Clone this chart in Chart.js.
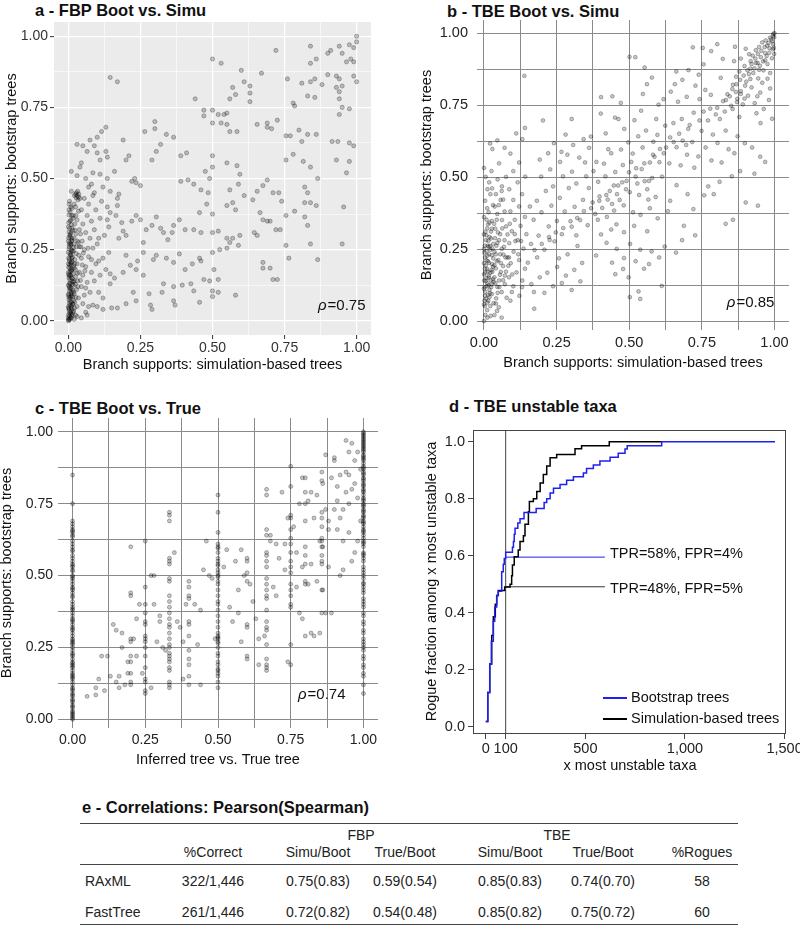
<!DOCTYPE html>
<html>
<head>
<meta charset="utf-8">
<script src="https://cdn.jsdelivr.net/npm/chart.js@4.4.1/dist/chart.umd.min.js"></script>
<style>
  body { margin: 0; width: 800px; height: 928px; position: relative; overflow: hidden; background: #fff;
         font-family: "Liberation Sans", Arial, sans-serif; color: #111; }
  canvas { position: absolute; }
  .ptitle { position: absolute; font-weight: bold; font-size: 16.5px; line-height: 19px; white-space: nowrap; }
  .cell { position: absolute; font-size: 14px; line-height: 16px; white-space: nowrap; color: #222; }
  .rule { position: absolute; left: 80px; width: 658px; border-top: 1.5px solid #444; }
</style>
</head>
<body>
<div class="ptitle" style="left:35px;top:1px">a - FBP Boot vs. Simu</div>
<div class="ptitle" style="left:447px;top:2px">b - TBE Boot vs. Simu</div>
<div class="ptitle" style="left:35px;top:399px">c - TBE Boot vs. True</div>
<div class="ptitle" style="left:449px;top:397px">d - TBE unstable taxa</div>
<div class="ptitle" style="left:82px;top:798px">e - Correlations: Pearson(Spearman)</div>

<canvas id="chartA" width="380" height="380" style="left:0;top:0"></canvas>
<canvas id="chartB" width="400" height="380" style="left:400px;top:0"></canvas>
<canvas id="chartC" width="400" height="400" style="left:0;top:380px"></canvas>
<canvas id="chartD" width="400" height="400" style="left:400px;top:380px"></canvas>
<div id="tableE"></div>

<script>
// ---------- data ----------

// a: FBP supports, [simulation-based trees, bootstrap trees]
const fbpSimuBoot = [
  [1,1],[1,.98],[.99,.96],[.975,.97],[.94,.965],[.91,.95],[.9,.94],[.95,.94],[.98,.92],[.99,.91],[.965,.91],[.84,.965],
  [.72,.95],[.5,.92],[.53,.905],[.84,.905],[.86,.92],[.88,.83],[.9,.865],[.93,.86],[.94,.85],[.95,.825],[.99,.86],[1,.84],
  [.6,.88],[.67,.87],[.76,.85],[.81,.835],[.84,.84],[.855,.85],[.61,.84],[.63,.825],[.57,.82],[.58,.795],[.56,.78],[.63,.8],
  [.63,.77],[.44,.78],[.78,.765],[.785,.755],[.83,.79],[.855,.785],[.94,.805],[.93,.82],[.94,.78],[.95,.75],[.94,.725],[.975,.745],
  [.145,.855],[.17,.84],
  [.47,.74],[.5,.74],[.52,.725],[.54,.725],[.55,.73],[.47,.72],[.55,.69],[.5,.695],[.53,.695],[.3,.7],[.3,.675],[.265,.665],
  [.56,.665],[.585,.665],[.655,.69],[.69,.695],[.725,.705],[.69,.68],[.705,.675],[.755,.65],[.77,.65],[.8,.67],[.81,.63],[.83,.655],
  [.86,.655],[.915,.63],[.935,.63],[.975,.625],[.99,.615],
  [.13,.68],[.115,.665],[.1,.645],[.075,.635],[.05,.615],[.03,.62],[.09,.615],[.065,.595],[.1,.59],[.13,.595],[.11,.565],[.135,.575],
  [.19,.635],[.21,.58],[.2,.565],[.16,.525],[.01,.525],[.04,.54],[.045,.555],[.03,.51],[.06,.5],[.085,.52],[.11,.515],[.135,.5],
  [.08,.48],[.07,.47],[.09,.45],[.12,.47],[.145,.455],[.175,.445],[.17,.43],[.22,.49],[.235,.485],[.25,.475],[.23,.5],
  [.29,.565],[.305,.595],[.32,.62],[.34,.655],[.365,.645],[.39,.58],[.41,.59],[.415,.495],[.39,.49],[.435,.48],[.46,.46],[.485,.45],
  [.5,.58],[.475,.525],[.5,.54],[.49,.5],[.55,.555],[.585,.545],[.595,.515],[.59,.48],[.56,.46],[.57,.415],[.58,.39],[.55,.405],
  [.61,.44],[.64,.425],[.655,.455],[.675,.475],[.69,.495],[.71,.45],[.73,.45],[.74,.42],[.78,.585],[.755,.565],[.815,.56],[.84,.54],
  [.865,.5],[.93,.565],[.975,.56],[.965,.52],[.82,.47],[.83,.45],[.84,.415],[.82,.415],[.785,.385],[.755,.37],[.72,.32],[.69,.35],
  [.665,.38],[.645,.31],[.655,.3],[.675,.355],[.7,.35],[.735,.32],[.82,.365],[.83,.335],[.86,.405],[.865,.215],[.84,.27],[.95,.27],
  [.955,.4],[.755,.265],[.765,.22],[.675,.205],[.7,.185],[.675,.185],[.71,.145],[.725,.145],
  [.17,.405],[.145,.38],[.135,.355],[.165,.37],[.185,.345],[.19,.315],[.2,.3],[.175,.29],[.22,.35],[.235,.37],[.25,.355],[.27,.32],
  [.29,.335],[.305,.365],[.32,.325],[.33,.31],[.36,.31],[.365,.335],[.345,.285],[.385,.355],[.405,.32],[.435,.32],[.46,.31],[.5,.31],
  [.455,.38],[.48,.41],[.5,.375],[.52,.315],[.55,.29],[.57,.29],[.595,.3],[.59,.265],[.56,.275],[.55,.255],[.525,.25],
  [.26,.275],[.26,.24],[.24,.21],[.2,.23],[.215,.195],[.19,.17],[.16,.15],[.145,.165],[.235,.18],[.26,.16],[.295,.215],[.305,.23],
  [.34,.22],[.365,.205],[.385,.235],[.405,.18],[.43,.2],[.455,.22],[.46,.21],[.5,.24],[.505,.18],[.47,.145],[.49,.14],[.52,.145],
  [.395,.125],[.425,.13],[.435,.105],[.33,.13],[.365,.12],[.325,.1],[.365,.07],[.37,.055],[.28,.095],[.285,.055],[.225,.1],[.235,.07],
  [.2,.06],[.17,.045],[.15,.045],[.29,.04],[.455,.065],[.5,.105],[.5,.085],[.52,.1],[.58,.09],
  [0,0],[.005,.005],[.01,.01],[0,.02],[.008,.025],[.003,.035],[.012,.04],[0,.05],[.006,.055],[.01,.065],[.002,.075],[.008,.085],
  [0,.09],[.012,.1],[.004,.105],[.009,.115],[0,.125],[.006,.13],[.013,.14],[.002,.15],[.008,.16],[0,.17],[.011,.175],[.005,.185],
  [.009,.195],[0,.2],[.004,.21],[.012,.22],[.007,.23],[0,.24],[.01,.25],[.003,.26],[.008,.27],[0,.28],[.012,.29],[.005,.3],
  [.009,.31],[0,.33],[.006,.35],[.011,.37],[.002,.39],[.008,.4],[.004,.42],[.01,.455],[0,.01],[.003,.115],[.006,.16],[.01,.205],
  [.002,.003],[.007,.012],[.012,.018],[.004,.027],[.016,.03],[.001,.042],[.009,.047],[.014,.058],[.003,.062],[.018,.071],[.006,.08],
  [.011,.088],[.001,.095],[.015,.108],[.007,.112],[.003,.121],[.013,.128],[.018,.137],[.005,.143],[.01,.152],[.002,.158],[.016,.166],
  [.006,.172],[.012,.181],[.001,.188],[.018,.193],[.008,.202],[.003,.216],[.014,.224],[.006,.236],[.011,.243],[.002,.252],[.017,.258],
  [.009,.266],[.004,.275],[.013,.283],[.001,.292],[.007,.305],[.015,.318],[.004,.325],[.01,.338],[.001,.345],[.016,.36],[.006,.382],
  [.012,.395],[.003,.41],[.018,.1],[.02,.14],[.022,.2],[.019,.27],
  [.001,.005],[.004,.017],[.013,.022],[.008,.033],[.002,.045],[.011,.052],[.006,.068],[.015,.083],[.002,.084],[.009,.096],[.004,.132],
  [.014,.148],[.001,.163],[.008,.178],[.004,.196],[.013,.208],[.001,.221],[.009,.231],[.014,.246],[.003,.268],[.011,.28],[.006,.295],
  [.002,.312],[.013,.326],[.008,.355],[.002,.372],[.021,.045],[.026,.082],[.024,.128],[.031,.167],[.027,.236],[.023,.318],[.032,.28],
  [.026,.37],[.042,.142],[.048,.196],[.052,.238],[.043,.26],[.057,.175],[.068,.255],[.036,.445],[.032,.455],[.027,.432],[.021,.44],
  [.033,.425],
  [.02,.005],[.025,.02],[.018,.035],[.03,.05],[.022,.065],[.035,.08],[.02,.095],[.028,.11],[.017,.125],[.032,.14],[.025,.155],
  [.038,.17],[.02,.185],[.03,.2],[.022,.215],[.036,.23],[.018,.245],[.028,.26],[.034,.275],[.02,.29],[.026,.305],[.038,.32],
  [.022,.34],[.03,.355],[.017,.37],[.035,.385],[.025,.4],[.03,.44],[.025,.445],[.035,.435],[.028,.45],[.04,.43],[.02,.41],
  [.03,.015],[.024,.18],[.033,.12],[.016,.06],[.038,.26],
  [.045,.01],[.06,.03],[.05,.06],[.07,.05],[.085,.055],[.055,.09],[.075,.1],[.045,.12],[.065,.135],[.09,.14],[.05,.16],[.08,.17],
  [.06,.19],[.095,.2],[.045,.22],[.07,.225],[.055,.25],[.085,.255],[.048,.28],[.075,.29],[.06,.31],[.09,.32],[.05,.34],[.08,.35],
  [.065,.37],[.045,.39],[.095,.39],[.07,.41],[.055,.43],[.085,.44],[.1,.05],[.06,.115],[.08,.215],[.1,.27],[.042,.305],[.065,.02],
  [.105,.1],[.12,.08],[.11,.16],[.13,.18],[.12,.22],[.14,.24],[.105,.29],[.125,.3],[.11,.36],[.135,.4],[.115,.42],[.145,.13],
  [.12,.04],[.14,.33],[.105,.21]
];

// b: TBE supports, [simulation-based trees, bootstrap trees]
const tbeSimuBoot = [
  [1,1],[.995,.99],[.985,.985],[.97,.975],[.995,.962],[.958,.968],[.947,.952],[.983,.948],[.936,.941],[.968,.931],[.999,.928],
  [.925,.922],[.953,.917],[.991,.913],[.918,.903],[.942,.897],[.976,.893],[.897,.886],[.931,.878],[.962,.871],[.879,.867],[.912,.858],
  [.985,.862],[.868,.849],[.944,.843],[.903,.832],[.958,.828],[.857,.821],[.921,.812],[.884,.799],[.951,.794],[.838,.788],[.909,.783],
  [.872,.772],[.981,.768],[.823,.764],[.932,.757],[.891,.753],[.851,.748],[.963,.737],[.803,.741],[.938,.722],[.992,.703],[.879,.709],
  [.829,.728],[.952,.688],[.999,.986],[.994,.945],[.975,.957],[.901,.946],[.861,.903],[.822,.911],[.803,.962],[.782,.938],[.864,.953],
  [.913,.927],[.884,.912],[.947,.873],[.976,.842],[.867,.796],[.897,.773],[.941,.781],[.985,.808],
  [.996,.998],[.988,.978],[.979,.966],[.966,.952],[.955,.939],[.943,.928],[.934,.912],[.921,.893],[.907,.871],[.894,.853],[.882,.838],
  [.869,.823],[.855,.806],[.846,.781],[.833,.768],[.992,.972],[.973,.921],[.961,.902],[.95,.887],[.927,.862],[.917,.841],[.899,.818],
  [.884,.789],[.871,.761],[.856,.737],[.998,.949],[.982,.932],[.968,.906],[.936,.897],[.917,.877],
  [.601,.752],[.618,.771],[.643,.797],[.657,.823],[.683,.838],[.704,.872],[.719,.951],[.753,.949],[.728,.818],[.762,.803],[.781,.786],
  [.698,.779],[.668,.762],[.742,.771],[.798,.718],[.771,.697],[.722,.724],[.681,.702],[.652,.688],[.624,.679],[.703,.668],[.749,.661],
  [.788,.648],[.832,.662],[.597,.647],[.641,.638],[.684,.627],[.717,.622],[.763,.603],[.804,.619],[.842,.597],[.663,.604],[.619,.583],
  [.699,.578],[.738,.572],[.783,.558],[.818,.551],[.862,.583],[.583,.623],[.604,.552],[.638,.548],[.677,.541],[.724,.533],[.873,.642],
  [.898,.618],[.923,.603],[.951,.571],[.968,.553],[.931,.512],[.882,.521],[.853,.503],[.811,.484],[.772,.468],[.791,.441],[.901,.412],
  [.943,.401],[.857,.352],[.832,.338],[.721,.389],[.758,.437],[.663,.472],[.701,.441],[.641,.418],[.633,.382],[.688,.331],[.727,.298],
  [.682,.281],[.661,.238],[.622,.259],[.603,.221],[.612,.122],[.553,.881],[.521,.917],[.578,.846],[.561,.823],[.547,.789],[.662,.867],
  [.756,.892],[.815,.845],[.739,.856],[.696,.612],[.812,.702],[.756,.728],
  [.779,.738],[.742,.697],[.708,.681],[.672,.651],[.653,.622],[.627,.603],[.606,.598],[.587,.571],[.552,.548],[.524,.531],[.499,.517],
  [.476,.482],[.447,.471],[.421,.438],[.397,.418],[.369,.392],[.344,.382],[.321,.358],[.298,.347],[.273,.323],[.247,.308],[.224,.292],
  [.199,.268],[.174,.247],[.613,.502],[.568,.487],[.528,.478],[.489,.458],[.458,.441],[.426,.422],
  [.352,.503],[.377,.521],[.413,.547],[.438,.583],[.472,.596],[.497,.621],[.531,.642],[.558,.662],[.593,.702],[.402,.721],[.451,.707],
  [.518,.698],[.483,.668],[.419,.652],[.368,.641],[.546,.603],[.582,.578],[.361,.462],[.393,.484],[.418,.503],[.452,.518],[.478,.542],
  [.507,.553],[.543,.528],[.571,.551],[.374,.412],[.398,.433],[.433,.452],[.462,.471],[.491,.487],[.522,.502],[.553,.486],[.579,.497],
  [.383,.372],[.407,.393],[.441,.407],[.467,.421],[.502,.448],[.534,.438],[.562,.458],[.591,.431],[.357,.333],[.392,.352],[.423,.362],
  [.448,.384],[.481,.402],[.513,.378],[.539,.369],[.571,.392],[.598,.357],[.403,.301],[.438,.318],[.482,.309],[.517,.331],[.562,.312],
  [.422,.272],[.457,.251],[.503,.268],[.538,.248],[.577,.242],[.441,.203],[.482,.219],[.522,.208],[.551,.182],[.452,.163],[.498,.152],
  [.532,.103],[.502,.083],[.538,.077],[.568,.198],[.479,.181],[.463,.702],[.471,.758],[.442,.781],[.403,.778],[.501,.918],[.541,.731],
  [.387,.553],[.428,.597],[.512,.582],[.566,.422],[.456,.336],[.386,.228],
  [.151,.203],[.183,.221],[.208,.248],[.243,.277],[.268,.302],[.302,.328],[.331,.351],[.162,.268],[.188,.297],[.223,.329],[.251,.348],
  [.278,.381],[.312,.397],[.341,.421],[.171,.352],[.198,.378],[.232,.401],[.261,.428],[.292,.462],[.318,.478],[.348,.551],[.182,.418],
  [.213,.452],[.238,.468],[.272,.503],[.303,.519],[.328,.568],[.197,.502],[.228,.527],[.262,.553],[.287,.578],[.307,.612],[.192,.561],
  [.221,.583],[.241,.618],[.281,.648],[.302,.702],[.203,.697],[.163,.128],[.192,.152],[.218,.168],[.252,.188],[.282,.158],[.311,.178],
  [.338,.202],[.172,.101],[.208,.098],[.238,.121],[.268,.132],[.302,.108],[.332,.138],[.173,.043],[.258,.218],[.322,.261],[.288,.232],
  [.362,.602],[.343,.632],[.267,.588],[.158,.398],[.226,.282],[.318,.298],
  [0,0],[.005,.021],[.011,.038],[0,.058],[.015,.071],[.004,.088],[.021,.097],[0,.112],[.009,.121],[.026,.128],[.006,.139],[.016,.151],
  [0,.162],[.022,.168],[.011,.181],[.031,.189],[0,.201],[.014,.208],[.004,.221],[.027,.229],[.009,.242],[0,.251],[.021,.261],[.032,.268],
  [.007,.281],[.019,.292],[0,.301],[.024,.311],[.011,.322],[.019,.342],[0,.361],[.016,.378],[.031,.403],[.004,.418],[.022,.441],
  [.012,.458],[.026,.521],[0,.532],[.029,.598],[.021,.617],[.006,.501],[.012,.131],[.019,.109],[.017,.158],[.028,.198],[.013,.262],
  [.004,.102],[.022,.052],[.008,.298],[.031,.146],[.002,.071],[.014,.091],[.003,.182],[.018,.232],[.001,.141],[.029,.171],[.009,.211],
  [.025,.118],[.001,.238],[.024,.287],
  [.003,.052],[.012,.064],[.007,.078],[.019,.083],[.027,.094],[.002,.118],[.016,.124],[.033,.136],[.008,.149],[.023,.142],[.004,.168],
  [.013,.172],[.026,.178],[.036,.194],[.006,.193],[.017,.202],[.032,.218],[.011,.227],[.022,.248],[.041,.232],[.003,.262],[.029,.252],
  [.015,.279],[.043,.262],[.005,.31],[.027,.321],[.048,.308],[.014,.336],[.035,.338],[.009,.352],[.053,.118],[.047,.098],[.066,.142],
  [.058,.171],[.044,.208],[.069,.258],[.052,.281],[.081,.301],[.037,.398],[.057,.421],[.028,.461],[.018,.482],[.047,.492],[.011,.392],
  [.063,.322],[.084,.192],[.097,.162],[.074,.221],[.089,.338],[.108,.278],[.023,.018],[.012,.012],[.045,.035],[.033,.062],[.016,.258],
  [.039,.132],[.056,.232],[.072,.158],[.027,.348],[.061,.452],
  [.036,.021],[.051,.048],[.042,.079],[.061,.101],[.046,.119],[.072,.128],[.036,.152],[.055,.161],[.076,.172],[.041,.183],[.066,.191],
  [.049,.212],[.081,.221],[.036,.241],[.061,.251],[.046,.272],[.071,.281],[.056,.302],[.039,.321],[.076,.329],[.062,.351],[.046,.372],
  [.071,.381],[.051,.403],[.066,.422],[.041,.441],[.062,.468],[.076,.501],[.052,.548],[.071,.602],[.046,.628],[.061,.012],[.041,.061],
  [.078,.081],[.052,.141],[.067,.231],[.038,.288],[.058,.201],[.044,.352],
  [.091,.071],[.122,.088],[.101,.121],[.132,.141],[.086,.152],[.112,.169],[.141,.182],[.092,.201],[.121,.212],[.102,.241],[.136,.252],
  [.087,.271],[.116,.281],[.146,.302],[.096,.312],[.126,.331],[.106,.352],[.141,.362],[.091,.381],[.121,.398],[.101,.421],[.131,.441],
  [.087,.458],[.116,.482],[.142,.502],[.101,.521],[.121,.551],[.091,.582],[.132,.632],[.111,.652],[.141,.671],[.139,.852],[.096,.101],
  [.131,.118],[.086,.221],[.118,.232],[.106,.302],[.128,.278]
];

// c: TBE bootstrap supports grouped by the inferred-vs-true tree value (x)
const trueDist = [0, 1, 0.5, 0.333, 0.25, 0.667, 0.75, 0.2, 0.4, 0.6, 0.8, 0.857];
const bootAtDist = [
  [.85,.75,.69,.68,.67,.66,.65,.64,.62,.61,.6,.59,.57,.56,.55,.54,.53,.52,.5,.49,.48,.47,.46,.45,.44,.43,.41,.4,.39,.38,.37,.36,
   .35,.34,.33,.32,.31,.3,.29,.28,.27,.26,.25,.24,.23,.22,.21,.2,.19,.18,.17,.16,.15,.14,.13,.12,.11,.1,.09,.08,.07,.06,.05,.04,
   .03,.02,.01,0,.535,.515,.425,.385,.345,.265,.225,.185,.145,.105,.065,.025,.005,.655,.635,.585,.495,.455,.315,.275,.195,.155,
   .085,.045,.015],
  [1,.995,.99,.98,.975,.97,.96,.955,.95,.94,.93,.92,.91,.9,.89,.88,.87,.86,.85,.84,.83,.82,.81,.8,.79,.78,.77,.76,.75,.74,.73,
   .72,.71,.7,.69,.68,.67,.66,.65,.64,.63,.62,.61,.6,.58,.57,.56,.55,.53,.52,.51,.5,.49,.47,.46,.45,.44,.42,.41,.4,.39,.37,.36,.34,
   .33,.31,.3,.28,.27,.26,.25,.24,.22,.21,.19,.18,.16,.15,.12,.09,.965,.935,.905,.875,.835,.795,.765,.725,.685,.655,.985,.945,
   .915,.855,.815,.745,.705,.615,.575,.475],
  [.78,.72,.65,.61,.6,.58,.56,.55,.54,.52,.51,.5,.48,.47,.45,.43,.41,.4,.38,.36,.34,.32,.3,.29,.28,.27,.25,.23,.22,.2,.19,.17,
   .16,.15,.13,.11,.595,.535,.495,.285,.265,.175],
  [.72,.71,.69,.56,.55,.54,.49,.48,.43,.41,.39,.37,.35,.33,.32,.3,.28,.26,.25,.23,.22,.21,.2,.18,.17,.13,.12,.11],
  [.62,.46,.4,.37,.34,.33,.29,.28,.27,.25,.22,.18,.14,.13,.1,.09],
  [.8,.78,.66,.64,.58,.57,.55,.53,.49,.47,.45,.43,.42,.38,.34,.32,.31,.26,.21,.19,.18,.17],
  [.88,.81,.71,.7,.66,.63,.61,.58,.55,.53,.51,.47,.45,.43,.4,.39,.26,.19],
  [.6,.44,.43,.28,.27,.22,.2,.16,.13,.12],
  [.48,.46,.43,.42,.34,.33,.29,.24,.21,.19,.15,.12],
  [.56,.55,.51,.48,.33,.32,.22,.21],
  [.84,.79,.75,.69,.6,.54,.48,.47,.29],
  [.86,.83,.72,.7,.67,.63,.62,.6,.57,.55,.54,.45,.37]
];
const tbeTrueBootOther = [
  [.05,.08],[.08,.085],[.09,.14],[.1,.22],[.08,.11],[.12,.22],[.11,.1],[.13,.15],[.14,.33],[.15,.31],[.16,.15],[.15,.13],[.16,.11],
  [.17,.3],[.17,.25],[.18,.12],[.19,.2],[.19,.16],[.21,.28],[.22,.22],[.22,.35],[.23,.4],[.24,.16],[.27,.11],[.27,.5],[.28,.5],
  [.28,.4],[.29,.27],[.3,.36],[.3,.34],[.31,.25],[.32,.24],[.35,.58],[.36,.34],[.37,.32],[.38,.27],[.38,.14],[.39,.4],[.42,.4],
  [.43,.26],[.44,.38],[.44,.12],[.45,.52],[.46,.62],[.47,.5],[.48,.49],[.49,.28],[.52,.53],[.53,.59],[.54,.39],[.55,.34],[.56,.55],
  [.57,.45],[.57,.37],[.58,.59],[.58,.27],[.59,.5],[.61,.47],[.62,.41],[.63,.35],[.64,.28],[.64,.19],[.66,.29],[.68,.64],[.69,.46],
  [.7,.43],[.71,.56],[.72,.79],[.73,.61],[.74,.2],[.76,.67],[.77,.58],[.77,.46],[.78,.37],[.79,.35],[.79,.84],[.81,.47],[.82,.3],
  [.83,.29],[.84,.48],[.85,.3],[.86,.45],[.87,.37],[.89,.37],[.78,.75],[.81,.76],[.82,.79],[.83,.7],[.84,.78],[.85,.62],[.86,.82],
  [.87,.73],[.88,.69],[.89,.84],[.9,.9],[.9,.91],[.91,.81],[.91,.76],[.92,.85],[.92,.7],[.93,.62],[.93,.52],[.94,.97],[.94,.86],
  [.94,.79],[.95,.93],[.95,.75],[.95,.65],[.96,.96],[.96,.55],[.97,.9],[.97,.82],[.97,.58],[.98,.93],[.98,.77],[.98,.62],[.99,.87],
  [.99,.69],[.87,.92],[.88,.66],[.79,.53],[.8,.57],[.74,.7],[.73,.52],[.68,.62],[.7,.61],[.82,.54],[.86,.6],[.88,.53],[.92,.5],
  [.93,.73],[.96,.8],[.95,.85],[.9,.73],[.91,.66]
];

const rhoValues = ['0.75', '0.85', '0.74'];

// d: rogue fraction among the x most unstable taxa (value after each step)
const bootRogueX = [0,10,20,28,38,45,55,63,80,88,93,100,134,139,143,147,161,172,192,253,293,306,323,340,373,406,440,490,506,540,573,624,665,699,710,883,1452];
const bootRogueY = [.018,.12,.22,.3,.37,.42,.46,.475,.544,.57,.59,.612,.63,.65,.675,.696,.715,.73,.752,.766,.787,.8,.82,.837,.85,.865,.877,.89,.906,.918,.932,.945,.959,.974,.986,1,1];
const simuRogueX = [0,10,20,30,38,48,55,63,95,122,130,134,143,163,172,189,197,214,219,239,256,273,289,306,323,356,448,481,620,883];
const simuRogueY = [.018,.12,.22,.32,.386,.43,.46,.478,.49,.5,.53,.567,.596,.62,.65,.67,.71,.754,.79,.8,.825,.855,.885,.915,.944,.955,.975,.986,1,1];
const rogueNames = ['Bootstrap trees', 'Simulation-based trees'];
const cutoffX = 100;
const tprLevels = [0.595, 0.491];
const tprLineEnd = 598;
const tprLabels = ['TPR=58%, FPR=4%', 'TPR=48%, FPR=5%'];
const tprLabelY = [0.606, 0.484];
const dXTicks = [0, 100, 500, 1000, 1500];
const dYTicks = [0, 0.2, 0.4, 0.6, 0.8, 1.0];

// e: correlation table
const tableGroups = ['FBP', 'TBE'];
const tableHeaders = ['%Correct', 'Simu/Boot', 'True/Boot', 'Simu/Boot', 'True/Boot', '%Rogues'];
const tableMethods = ['RAxML', 'FastTree'];
const pctCorrect = ['322/1,446', '261/1,446'];
const fbpSimuCor = ['0.75(0.83)', '0.72(0.82)'];
const fbpTrueCor = ['0.59(0.54)', '0.54(0.48)'];
const tbeSimuCor = ['0.85(0.83)', '0.85(0.82)'];
const tbeTrueCor = ['0.74(0.70)', '0.75(0.72)'];
const pctRogues = ['58', '60'];

// ---------- drawing ----------
const FONT = '"Liberation Sans", Arial, sans-serif';
Chart.defaults.font.family = FONT;
Chart.defaults.color = '#222';

const eighths = [0, 0.125, 0.25, 0.375, 0.5, 0.625, 0.75, 0.875, 1];
const isMajor = v => Math.abs(v * 4 - Math.round(v * 4)) < 1e-6;

const panelBg = {
  id: 'panelBg',
  beforeDraw(chart, args, o) {
    if (!o.color) return;
    const { ctx, chartArea: a } = chart;
    ctx.save();
    ctx.fillStyle = o.color;
    ctx.fillRect(a.left, a.top, a.width, a.height);
    ctx.restore();
  }
};

const rhoLabel = {
  id: 'rhoLabel',
  afterDatasetsDraw(chart, args, o) {
    if (o.text == null) return;
    const { ctx, scales } = chart;
    const px = scales.x.getPixelForValue(o.x), py = scales.y.getPixelForValue(o.y);
    ctx.save();
    ctx.fillStyle = '#111';
    ctx.textBaseline = 'middle';
    ctx.font = 'italic 15px ' + FONT;
    ctx.fillText('ρ', px, py);
    const w = ctx.measureText('ρ').width;
    ctx.font = '15px ' + FONT;
    ctx.fillText('=' + o.text, px + w + 1, py);
    ctx.restore();
  }
};

function eighthAxis(o) {
  return {
    type: 'linear', min: o.min, max: o.max,
    afterBuildTicks: s => { s.ticks = eighths.map(v => ({ value: v })); },
    afterFit: s => {
      if (o.horiz) s.height = o.size; else s.width = o.size;
      s.paddingLeft = s.paddingRight = s.paddingTop = s.paddingBottom = 0;
    },
    border: { display: false },
    grid: {
      color: o.grid,
      lineWidth: c => (c.tick && !isMajor(c.tick.value)) ? o.gwMinor : o.gw,
      drawTicks: o.tickLen > 0,
      tickLength: o.tickLen,
      tickColor: c => (c.tick && isMajor(c.tick.value)) ? '#333' : 'rgba(0,0,0,0)',
      tickWidth: 1
    },
    ticks: {
      autoSkip: false, maxRotation: 0, padding: o.pad, color: o.tickColor || '#222',
      font: { size: o.fs },
      callback: v => isMajor(v) ? v.toFixed(2) : ''
    },
    title: { display: true, text: o.title, color: '#111', font: { size: 14.5 }, padding: o.tpad }
  };
}

function scatterPanel(id, points, cfg) {
  return new Chart(document.getElementById(id), {
    type: 'scatter',
    data: { datasets: [{
      data: points.map(p => ({ x: p[0], y: p[1] })),
      pointRadius: cfg.r, backgroundColor: cfg.fill, borderColor: cfg.edge, borderWidth: cfg.edgeW
    }] },
    options: {
      responsive: false, animation: false, events: [],
      layout: { padding: cfg.pad },
      plugins: { legend: { display: false }, tooltip: { enabled: false },
                 panelBg: { color: cfg.bg }, rhoLabel: cfg.rho },
      scales: { x: eighthAxis(cfg.x), y: eighthAxis(cfg.y) }
    },
    plugins: [panelBg, rhoLabel]
  });
}

// a - ggplot-like grey panel
scatterPanel('chartA', fbpSimuBoot, {
  r: 2.1, fill: 'rgba(0,0,0,0.22)', edge: 'rgba(0,0,0,0.32)', edgeW: 0.8, bg: '#ebebeb',
  pad: { left: 0, top: 22, right: 9, bottom: 0 },
  rho: { x: 0.866, y: 0.053, text: rhoValues[0] },
  x: { horiz: true, min: -0.05, max: 1.05, size: 45, grid: '#ffffff', gw: 1.2, gwMinor: 0.6, tickLen: 4, pad: 1,
       fs: 14, tickColor: '#333', title: 'Branch supports: simulation-based trees', tpad: { top: 0, bottom: 6.3 } },
  y: { min: -0.05, max: 1.05, size: 54, grid: '#ffffff', gw: 1.2, gwMinor: 0.6, tickLen: 4, pad: 2,
       fs: 14, tickColor: '#333', title: 'Branch supports: bootstrap trees', tpad: { top: 3, bottom: 0 } }
});

// b
scatterPanel('chartB', tbeSimuBoot, {
  r: 1.9, fill: 'rgba(0,0,0,0.22)', edge: 'rgba(0,0,0,0.4)', edgeW: 0.7, bg: null,
  pad: { left: 18, top: 20, right: 11, bottom: 0 },
  rho: { x: 0.836, y: 0.062, text: rhoValues[1] },
  x: { horiz: true, min: -0.024, max: 1.05, size: 50, grid: '#8a8a8a', gw: 1, gwMinor: 1, tickLen: 0, pad: 4,
       fs: 14.5, title: 'Branch supports: simulation-based trees', tpad: { top: 0, bottom: 8.3 } },
  y: { min: -0.031, max: 1.046, size: 59, grid: '#8a8a8a', gw: 1, gwMinor: 1, tickLen: 0, pad: 9,
       fs: 14.5, title: 'Branch supports: bootstrap trees', tpad: { top: 0, bottom: 0 } }
});

// c
const cPoints = [];
trueDist.forEach((d, i) => bootAtDist[i].forEach(b => cPoints.push([d, b])));
tbeTrueBootOther.forEach(p => cPoints.push(p));
scatterPanel('chartC', cPoints, {
  r: 2, fill: 'rgba(0,0,0,0.22)', edge: 'rgba(0,0,0,0.4)', edgeW: 0.7, bg: null,
  pad: { left: 0, top: 38, right: 22, bottom: 0 },
  rho: { x: 0.775, y: 0.084, text: rhoValues[2] },
  x: { horiz: true, min: -0.05, max: 1.05, size: 52, grid: '#8a8a8a', gw: 1, gwMinor: 1, tickLen: 0, pad: 4,
       fs: 14, title: 'Inferred tree vs. True tree', tpad: { top: 0, bottom: 11.3 } },
  y: { min: -0.03, max: 1.048, size: 58, grid: '#8a8a8a', gw: 1, gwMinor: 1, tickLen: 0, pad: 5,
       fs: 14, title: 'Branch supports: bootstrap trees', tpad: { top: -1.5, bottom: 0 } }
});

// d - step curves
const D_YMIN = -0.022, D_YMAX = 1.041;
const BLUE = '#1f1ff0';
const xy = (xs, ys) => xs.map((x, i) => ({ x: x, y: ys[i] }));

const rogueOverlay = {
  id: 'rogueOverlay',
  afterDatasetsDraw(chart) {
    const { ctx, chartArea: a, scales } = chart;
    ctx.save();
    // frame
    ctx.strokeStyle = '#444';
    ctx.lineWidth = 1;
    ctx.strokeRect(Math.round(a.left) - 0.5, Math.round(a.top) + 0.5, Math.round(a.width), Math.round(a.height));
    // TPR / FPR labels
    ctx.fillStyle = '#111';
    ctx.font = '14.5px ' + FONT;
    ctx.textBaseline = 'middle';
    tprLabels.forEach((t, i) => {
      ctx.fillText(t, scales.x.getPixelForValue(tprLineEnd) + 5, scales.y.getPixelForValue(tprLabelY[i]));
    });
    // legend, bottom right inside the plot
    const colors = [BLUE, '#000'];
    rogueNames.forEach((name, i) => {
      const ly = a.bottom - 35 + i * 21;
      ctx.strokeStyle = colors[i];
      ctx.lineWidth = 2;
      ctx.beginPath();
      ctx.moveTo(a.left + 129, ly);
      ctx.lineTo(a.left + 153, ly);
      ctx.stroke();
      ctx.fillText(name, a.left + 157, ly);
    });
    ctx.restore();
  }
};

new Chart(document.getElementById('chartD'), {
  type: 'line',
  data: { datasets: [
    { label: rogueNames[0], data: xy(bootRogueX, bootRogueY), borderColor: BLUE, borderWidth: 1.5, stepped: true, pointRadius: 0 },
    { label: rogueNames[1], data: xy(simuRogueX, simuRogueY), borderColor: '#000', borderWidth: 1.5, stepped: true, pointRadius: 0 },
    { data: [{ x: cutoffX, y: tprLevels[0] }, { x: tprLineEnd, y: tprLevels[0] }], borderColor: BLUE, borderWidth: 1, pointRadius: 0 },
    { data: [{ x: cutoffX, y: tprLevels[1] }, { x: tprLineEnd, y: tprLevels[1] }], borderColor: '#333', borderWidth: 1, pointRadius: 0 },
    { data: [{ x: cutoffX, y: D_YMIN }, { x: cutoffX, y: D_YMAX }], borderColor: '#444', borderWidth: 1, pointRadius: 0 }
  ] },
  options: {
    responsive: false, animation: false, events: [],
    layout: { padding: { left: 23, top: 50, right: 14, bottom: 0 } },
    plugins: { legend: { display: false }, tooltip: { enabled: false } },
    scales: {
      x: {
        type: 'linear', min: -59, max: 1507,
        afterBuildTicks: s => { s.ticks = dXTicks.map(v => ({ value: v })); },
        afterFit: s => { s.height = 47; s.paddingLeft = s.paddingRight = 0; },
        border: { display: false },
        grid: { drawOnChartArea: false, drawTicks: true, tickLength: 6, tickColor: '#444' },
        ticks: { autoSkip: false, maxRotation: 0, padding: 1, font: { size: 14.5 },
                 callback: v => v.toLocaleString('en-US') },
        title: { display: true, text: 'x most unstable taxa', color: '#111', font: { size: 14.5 }, padding: { top: 0, bottom: 5.3 } }
      },
      y: {
        type: 'linear', min: D_YMIN, max: D_YMAX,
        afterBuildTicks: s => { s.ticks = dYTicks.map(v => ({ value: v })); },
        afterFit: s => { s.width = 51; s.paddingTop = s.paddingBottom = 0; },
        border: { display: false },
        grid: { drawOnChartArea: false, drawTicks: true, tickLength: 6, tickColor: '#444' },
        ticks: { autoSkip: false, padding: 3, font: { size: 14.5 }, callback: v => v.toFixed(1) },
        title: { display: true, text: 'Rogue fraction among x most unstable taxa', color: '#111', font: { size: 14.5 }, padding: { top: 0, bottom: 0 } }
      }
    }
  },
  plugins: [rogueOverlay]
});

// e - table built from the arrays
const colX = [213, 318, 405, 510, 603, 702];
const groupX = [361, 557];
const rowY = [881, 912];
const tableEl = document.getElementById('tableE');
function cell(text, x, y, center) {
  const d = document.createElement('div');
  d.className = 'cell';
  d.textContent = text;
  d.style.left = x + 'px';
  d.style.top = (y - 8) + 'px';
  if (center) d.style.transform = 'translateX(-50%)';
  tableEl.appendChild(d);
}
function rule(y) {
  const d = document.createElement('div');
  d.className = 'rule';
  d.style.top = y + 'px';
  tableEl.appendChild(d);
}
rule(823); rule(864); rule(924);
tableGroups.forEach((g, i) => cell(g, groupX[i], 835, true));
tableHeaders.forEach((h, i) => cell(h, colX[i], 852, true));
const tableCols = [pctCorrect, fbpSimuCor, fbpTrueCor, tbeSimuCor, tbeTrueCor, pctRogues];
tableMethods.forEach((m, r) => {
  cell(m, 85, rowY[r], false);
  tableCols.forEach((col, c) => cell(col[r], colX[c], rowY[r], true));
});
</script>
</body>
</html>
